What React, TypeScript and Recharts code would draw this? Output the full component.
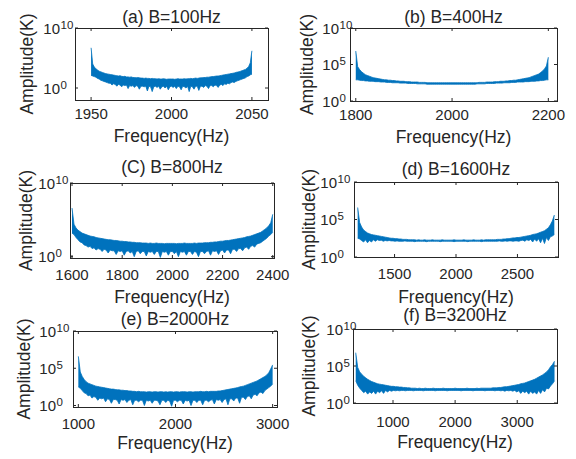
import React from 'react';
import { AreaChart, Area, XAxis, YAxis } from 'recharts';

const FONT = '"Liberation Sans", Arial, Helvetica, sans-serif';
const INK = '#262626';
const BLUE = '#0072BD';

// Amplitude spectra as log10(K): upper and lower envelope of the dense trace,
// sampled on 101 evenly spaced frequencies from the lower to the upper band edge.
const upperA = [
  6.7, 4.0, 3.5, 3.2, 3.0, 2.8, 2.7, 2.6, 2.5, 2.4,
  2.35, 2.3, 2.25, 2.2, 2.15, 2.1, 2.05, 2.0, 2.05, 1.95,
  1.9, 1.95, 1.85, 1.85, 1.8, 1.85, 1.75, 1.75, 1.7, 1.75,
  1.7, 1.65, 1.65, 1.6, 1.65, 1.6, 1.6, 1.55, 1.6, 1.55,
  1.55, 1.5, 1.55, 1.5, 1.5, 1.55, 1.5, 1.45, 1.5, 1.5,
  1.5, 1.5, 1.45, 1.5, 1.55, 1.5, 1.5, 1.5, 1.55, 1.5,
  1.55, 1.55, 1.6, 1.55, 1.6, 1.65, 1.6, 1.65, 1.7, 1.7,
  1.75, 1.75, 1.8, 1.8, 1.85, 1.9, 1.9, 1.95, 2.0, 2.0,
  2.05, 2.1, 2.15, 2.2, 2.25, 2.3, 2.35, 2.4, 2.45, 2.5,
  2.6, 2.65, 2.7, 2.8, 2.9, 3.0, 3.1, 3.3, 3.6, 4.2,
  6.2,
];
const lowerA = [
  2.1, 2.0, 1.9, 1.8, 1.6, 1.5, 1.3, 1.2, 1.1, 1.0,
  0.9, 0.8, 0.8, 0.5, 0.7, 0.6, 0.3, 0.6, 0.5, 0.2,
  0.5, 0.4, 0.5, -0.1, 0.4, 0.3, 0.4, 0.1, 0.4, 0.3,
  -0.2, 0.3, 0.3, 0.2, 0.3, -0.5, 0.3, 0.2, -0.6, 0.2,
  0.3, 0.1, 0.3, -0.2, 0.2, 0.3, 0.0, 0.3, -0.3, 0.2,
  0.3, 0.1, 0.3, -0.1, 0.3, 0.2, -0.3, 0.3, 0.2, 0.0,
  0.3, -0.6, 0.3, 0.2, -0.2, 0.3, 0.3, -0.4, 0.3, 0.3,
  0.1, 0.4, 0.3, -0.1, 0.4, 0.4, 0.2, 0.5, 0.4, 0.1,
  0.5, 0.6, 0.4, 0.7, 0.6, 0.8, 0.7, 0.9, 1.0, 0.9,
  1.1, 1.2, 1.3, 1.4, 1.5, 1.6, 1.7, 1.9, 2.0, 2.2,
  2.3,
];

const upperB = [
  6.85, 4.7, 4.3, 4.0, 3.8, 3.6, 3.5, 3.4, 3.3, 3.2,
  3.15, 3.1, 3.05, 3.0, 2.95, 2.9, 2.9, 2.85, 2.85, 2.8,
  2.8, 2.75, 2.75, 2.7, 2.7, 2.7, 2.65, 2.65, 2.65, 2.6,
  2.6, 2.6, 2.6, 2.55, 2.55, 2.55, 2.55, 2.5, 2.5, 2.5,
  2.5, 2.5, 2.5, 2.5, 2.5, 2.5, 2.5, 2.5, 2.5, 2.5,
  2.5, 2.5, 2.5, 2.5, 2.5, 2.5, 2.5, 2.5, 2.5, 2.5,
  2.5, 2.5, 2.5, 2.5, 2.55, 2.55, 2.55, 2.55, 2.6, 2.6,
  2.6, 2.6, 2.65, 2.65, 2.65, 2.7, 2.7, 2.7, 2.75, 2.75,
  2.8, 2.8, 2.85, 2.85, 2.9, 2.95, 3.0, 3.05, 3.1, 3.15,
  3.2, 3.3, 3.4, 3.5, 3.6, 3.7, 3.9, 4.1, 4.4, 4.8,
  6.0,
];
const lowerB = [
  2.9, 2.9, 2.85, 2.8, 2.8, 2.75, 2.75, 2.7, 2.7, 2.7,
  2.65, 2.65, 2.65, 2.6, 2.6, 2.6, 2.55, 2.55, 2.55, 2.5,
  2.5, 2.5, 2.5, 2.45, 2.45, 2.45, 2.45, 2.4, 2.4, 2.4,
  2.4, 2.4, 2.35, 2.35, 2.35, 2.35, 2.35, 2.3, 2.3, 2.3,
  2.3, 2.3, 2.3, 2.3, 2.3, 2.3, 2.3, 2.3, 2.3, 2.3,
  2.3, 2.3, 2.3, 2.3, 2.3, 2.3, 2.3, 2.3, 2.3, 2.3,
  2.3, 2.3, 2.3, 2.35, 2.35, 2.35, 2.35, 2.35, 2.4, 2.4,
  2.4, 2.4, 2.4, 2.45, 2.45, 2.45, 2.45, 2.5, 2.5, 2.5,
  2.5, 2.55, 2.55, 2.55, 2.6, 2.6, 2.6, 2.6, 2.65, 2.65,
  2.65, 2.7, 2.7, 2.7, 2.75, 2.75, 2.8, 2.8, 2.85, 2.9,
  2.9,
];

const upperC = [
  6.6, 4.4, 3.9, 3.6, 3.4, 3.2, 3.1, 3.0, 2.9, 2.8,
  2.75, 2.7, 2.6, 2.55, 2.5, 2.45, 2.4, 2.35, 2.3, 2.3,
  2.25, 2.2, 2.2, 2.15, 2.1, 2.1, 2.05, 2.05, 2.0, 2.0,
  1.95, 1.95, 1.9, 1.9, 1.9, 1.85, 1.85, 1.85, 1.8, 1.85,
  1.8, 1.8, 1.85, 1.8, 1.8, 1.8, 1.75, 1.8, 1.8, 1.8,
  1.8, 1.8, 1.75, 1.8, 1.8, 1.8, 1.85, 1.8, 1.8, 1.8,
  1.8, 1.85, 1.8, 1.85, 1.85, 1.85, 1.9, 1.9, 1.9, 1.95,
  1.95, 2.0, 2.0, 2.05, 2.1, 2.1, 2.15, 2.2, 2.2, 2.25,
  2.3, 2.35, 2.4, 2.45, 2.5, 2.55, 2.6, 2.7, 2.75, 2.8,
  2.9, 3.0, 3.1, 3.2, 3.3, 3.5, 3.7, 3.9, 4.2, 4.6,
  5.75,
];
const lowerC = [
  3.2, 3.0, 2.6, 2.3, 2.0, 1.9, 1.6, 1.5, 1.3, 1.4,
  1.1, 1.2, 0.9, 1.1, 1.0, 0.7, 1.0, 0.9, 0.5, 0.9,
  0.8, 0.8, 0.3, 0.8, 0.7, 0.8, 0.2, 0.7, 0.8, 0.5,
  0.7, 0.0, 0.7, 0.8, 0.4, 0.7, 0.7, 0.1, 0.7, 0.6,
  0.7, 0.3, 0.7, 0.7, -0.1, 0.7, 0.6, 0.7, 0.2, 0.7,
  0.7, 0.4, 0.7, 0.0, 0.7, 0.6, 0.7, 0.2, 0.7, 0.7,
  0.3, 0.7, 0.6, 0.0, 0.7, 0.7, 0.4, 0.7, 0.8, 0.2,
  0.8, 0.7, 0.8, 0.3, 0.8, 0.9, 0.5, 0.9, 0.9, 0.4,
  1.0, 1.0, 0.7, 1.1, 1.1, 0.8, 1.2, 1.3, 1.0, 1.4,
  1.5, 1.3, 1.7, 1.8, 1.9, 2.1, 2.3, 2.5, 2.8, 3.0,
  3.3,
];

const upperD = [
  6.6, 4.6, 4.0, 3.6, 3.4, 3.2, 3.1, 3.0, 2.95, 2.9,
  2.85, 2.8, 2.75, 2.7, 2.65, 2.6, 2.55, 2.5, 2.5, 2.45,
  2.45, 2.4, 2.4, 2.35, 2.35, 2.35, 2.3, 2.3, 2.3, 2.3,
  2.25, 2.3, 2.25, 2.25, 2.3, 2.25, 2.25, 2.25, 2.3, 2.25,
  2.25, 2.25, 2.25, 2.3, 2.25, 2.25, 2.25, 2.25, 2.25, 2.3,
  2.25, 2.25, 2.25, 2.25, 2.3, 2.25, 2.25, 2.25, 2.25, 2.3,
  2.25, 2.25, 2.25, 2.3, 2.25, 2.3, 2.3, 2.3, 2.3, 2.3,
  2.3, 2.35, 2.35, 2.35, 2.4, 2.4, 2.45, 2.45, 2.5, 2.55,
  2.55, 2.6, 2.6, 2.65, 2.7, 2.75, 2.8, 2.85, 2.9, 3.0,
  3.05, 3.1, 3.2, 3.3, 3.4, 3.5, 3.7, 3.9, 4.3, 4.8,
  5.6,
];
const lowerD = [
  2.5, 2.4, 2.2, 2.0, 2.3, 1.9, 2.2, 2.0, 2.3, 2.1,
  2.3, 2.2, 2.25, 2.1, 2.2, 2.15, 2.2, 2.15, 2.15, 2.1,
  2.15, 2.1, 2.1, 2.1, 2.15, 2.1, 2.1, 2.1, 2.1, 2.05,
  2.1, 2.1, 2.1, 2.1, 2.1, 2.05, 2.1, 2.1, 2.1, 2.1,
  2.1, 2.1, 2.05, 2.1, 2.1, 2.1, 2.1, 2.1, 2.1, 2.05,
  2.1, 2.1, 2.1, 2.1, 2.1, 2.1, 2.05, 2.1, 2.1, 2.1,
  2.1, 2.1, 2.1, 2.05, 2.1, 2.1, 2.1, 2.1, 2.1, 2.1,
  2.1, 2.1, 2.15, 2.1, 2.1, 2.15, 2.1, 2.15, 2.15, 2.1,
  2.15, 2.15, 2.1, 2.2, 2.25, 2.1, 2.3, 2.2, 2.35, 2.0,
  2.4, 2.1, 2.45, 1.9, 2.5, 1.8, 2.6, 2.2, 2.7, 2.8,
  3.0,
];

const upperE = [
  6.6, 4.5, 3.9, 3.5, 3.2, 3.0, 2.9, 2.8, 2.7, 2.6,
  2.55, 2.5, 2.45, 2.4, 2.35, 2.3, 2.25, 2.2, 2.2, 2.15,
  2.1, 2.1, 2.05, 2.05, 2.0, 2.0, 1.95, 1.95, 1.9, 1.9,
  1.85, 1.9, 1.85, 1.85, 1.85, 1.8, 1.85, 1.85, 1.8, 1.85,
  1.85, 1.8, 1.85, 1.85, 1.8, 1.85, 1.8, 1.85, 1.85, 1.8,
  1.85, 1.85, 1.8, 1.85, 1.85, 1.85, 1.8, 1.85, 1.85, 1.8,
  1.85, 1.85, 1.85, 1.9, 1.85, 1.85, 1.9, 1.85, 1.9, 1.9,
  1.9, 1.9, 1.95, 1.95, 2.0, 2.05, 2.1, 2.15, 2.2, 2.25,
  2.3, 2.35, 2.4, 2.5, 2.55, 2.6, 2.7, 2.8, 2.9, 3.0,
  3.1, 3.2, 3.3, 3.45, 3.6, 3.75, 3.9, 4.1, 4.4, 4.9,
  5.45,
];
const lowerE = [
  2.5, 2.3, 2.0, 1.7, 1.6, 1.3, 1.4, 1.0, 1.2, 1.1,
  0.7, 1.0, 0.9, 1.0, 0.5, 0.9, 0.8, 0.3, 0.8, 0.8,
  0.7, 0.2, 0.8, 0.7, 0.8, 0.4, 0.7, 0.8, 0.1, 0.7,
  0.7, 0.5, 0.7, 0.7, 0.0, 0.7, 0.6, 0.7, 0.3, 0.7,
  0.7, 0.6, 0.1, 0.7, 0.7, 0.4, 0.7, 0.6, -0.1, 0.7,
  0.7, 0.5, 0.7, 0.7, 0.2, 0.7, 0.6, 0.7, 0.0, 0.7,
  0.7, 0.4, 0.7, 0.7, 0.1, 0.7, 0.7, 0.5, 0.7, 0.8,
  0.2, 0.8, 0.7, 0.8, 0.4, 0.8, 0.9, 0.1, 0.9, 0.9,
  0.6, 1.0, 1.0, 0.3, 1.1, 1.1, 0.8, 1.2, 1.3, 0.9,
  1.4, 1.5, 1.3, 1.7, 1.8, 1.6, 2.0, 2.2, 2.4, 2.6,
  2.9,
];

const upperF = [
  6.8, 4.8, 4.2, 3.9, 3.6, 3.4, 3.2, 3.05, 2.9, 2.8,
  2.7, 2.6, 2.55, 2.5, 2.45, 2.4, 2.35, 2.3, 2.25, 2.25,
  2.2, 2.2, 2.15, 2.15, 2.1, 2.1, 2.05, 2.05, 2.0, 2.0,
  2.0, 1.95, 2.0, 1.95, 1.95, 2.0, 1.95, 1.95, 1.95, 2.0,
  1.95, 1.95, 1.95, 1.95, 2.0, 1.95, 1.95, 1.95, 1.95, 1.95,
  2.0, 1.95, 1.95, 1.95, 1.95, 1.95, 2.0, 1.95, 1.95, 1.95,
  1.95, 2.0, 1.95, 2.0, 2.0, 2.0, 2.0, 2.0, 2.0, 2.05,
  2.05, 2.05, 2.1, 2.1, 2.15, 2.2, 2.2, 2.25, 2.3, 2.35,
  2.4, 2.45, 2.5, 2.6, 2.65, 2.7, 2.8, 2.9, 3.0, 3.1,
  3.2, 3.35, 3.5, 3.65, 3.8, 4.0, 4.2, 4.5, 4.9, 5.2,
  5.65,
];
const lowerF = [
  3.0, 2.4, 2.0, 1.7, 1.4, 1.6, 1.2, 1.5, 1.3, 1.6,
  1.2, 1.6, 1.4, 1.65, 1.3, 1.7, 1.5, 1.7, 1.6, 1.7,
  1.65, 1.7, 1.65, 1.7, 1.7, 1.65, 1.7, 1.7, 1.7, 1.65,
  1.7, 1.7, 1.7, 1.7, 1.65, 1.7, 1.7, 1.7, 1.7, 1.7,
  1.65, 1.7, 1.7, 1.7, 1.7, 1.7, 1.65, 1.7, 1.7, 1.7,
  1.7, 1.7, 1.7, 1.65, 1.7, 1.7, 1.7, 1.7, 1.7, 1.65,
  1.7, 1.7, 1.7, 1.7, 1.7, 1.65, 1.7, 1.7, 1.7, 1.7,
  1.65, 1.7, 1.7, 1.65, 1.7, 1.6, 1.7, 1.65, 1.7, 1.6,
  1.7, 1.5, 1.65, 1.3, 1.6, 1.4, 1.6, 1.2, 1.6, 1.3,
  1.5, 1.2, 1.7, 1.3, 1.8, 1.5, 2.0, 1.9, 2.3, 2.6,
  3.0,
];

// Band edges (Hz) of each spectrum
const bandA = [1950, 2050];
const bandB = [1800, 2200];
const bandC = [1600, 2400];
const bandD = [1200, 2800];
const bandE = [1000, 3000];
const bandF = [400, 3600];

const titles = ['(a) B=100Hz', '(b) B=400Hz', '(C) B=800Hz', '(d) B=1600Hz', '(e) B=2000Hz', '(f) B=3200Hz'];

const xTicksA = [1950, 2000, 2050];
const xTicksB = [1800, 2000, 2200];
const xTicksC = [1600, 1800, 2000, 2200, 2400];
const xTicksD = [1500, 2000, 2500];
const xTicksE = [1000, 2000, 3000];
const xTicksF = [1000, 2000, 3000];

const yTicksSparse = [1, 1e10];
const yTicksFull = [1, 1e5, 1e10];

const X_LABEL = 'Frequency(Hz)';
const Y_LABEL = 'Amplitude(K)';

type Box = { left: number; top: number; width: number; height: number };

type PanelSpec = {
  title: string;
  upper: number[];
  lower: number[];
  band: number[];
  xDomain: [number, number];
  xTicks: number[];
  yDomain: [number, number];
  yTicks: number[];
  box: Box;
  yGap: number;
  yLabelX: number;
  titleY: number;
  xTickY: number;
  xLabelY: number;
};

const panels: PanelSpec[] = [
  {
    title: titles[0], upper: upperA, lower: lowerA, band: bandA, xDomain: [1940, 2060], xTicks: xTicksA,
    yDomain: [0.01, 1e10], yTicks: yTicksSparse,
    box: { left: 75, top: 28, width: 193, height: 72 },
    yGap: 15, yLabelX: 33, titleY: 23, xTickY: 119, xLabelY: 142,
  },
  {
    title: titles[1], upper: upperB, lower: lowerB, band: bandB, xDomain: [1788, 2218], xTicks: xTicksB,
    yDomain: [1, 1e10], yTicks: yTicksFull,
    box: { left: 350, top: 28, width: 207, height: 73 },
    yGap: 11, yLabelX: 313, titleY: 23, xTickY: 120, xLabelY: 142.5,
  },
  {
    title: titles[2], upper: upperC, lower: lowerC, band: bandC, xDomain: [1592, 2405], xTicks: xTicksC,
    yDomain: [0.66, 1e10], yTicks: yTicksSparse,
    box: { left: 70, top: 183, width: 204, height: 75 },
    yGap: 15, yLabelX: 31.5, titleY: 173, xTickY: 280, xLabelY: 302.5,
  },
  {
    title: titles[3], upper: upperD, lower: lowerD, band: bandD, xDomain: [1170, 2830], xTicks: xTicksD,
    yDomain: [1, 1e10], yTicks: yTicksFull,
    box: { left: 354, top: 182, width: 204, height: 75 },
    yGap: 17, yLabelX: 314.5, titleY: 175, xTickY: 278.5, xLabelY: 302.5,
  },
  {
    title: titles[4], upper: upperE, lower: lowerE, band: bandE, xDomain: [945, 3045], xTicks: xTicksE,
    yDomain: [0.63, 1e10], yTicks: yTicksFull,
    box: { left: 73, top: 331, width: 204, height: 76 },
    yGap: 17, yLabelX: 30, titleY: 325, xTickY: 428.5, xLabelY: 449,
  },
  {
    title: titles[5], upper: upperF, lower: lowerF, band: bandF, xDomain: [356, 3640], xTicks: xTicksF,
    yDomain: [1, 1e10], yTicks: yTicksFull,
    box: { left: 353, top: 329, width: 204, height: 74 },
    yGap: 10, yLabelX: 314.5, titleY: 321, xTickY: 426.5, xLabelY: 448,
  },
];

const ML = 50;
const MT = 10;
const MR = 30;
const MB = 30;

function toRows(p: PanelSpec) {
  const [lo, hi] = p.band;
  const step = (hi - lo) / (p.upper.length - 1);
  return p.upper.map((u, i) => ({
    freq: lo + i * step,
    amp: [Math.pow(10, p.lower[i]), Math.pow(10, u)],
  }));
}

function Panel({ p }: { p: PanelSpec }) {
  const { left, top, width: bw, height: bh } = p.box;
  const rows = toRows(p);

  const XTick = (props: any) => {
    const { x, payload } = props;
    return (
      <g>
        <line x1={x} x2={x} y1={MT + bh} y2={MT + bh - 3} stroke={INK} strokeWidth={1} />
        <line x1={x} x2={x} y1={MT} y2={MT + 3} stroke={INK} strokeWidth={1} />
        <text x={x} y={p.xTickY - (top - MT)} textAnchor="middle" fontSize={15} fontFamily={FONT} fill={INK}>
          {payload.value}
        </text>
      </g>
    );
  };

  const YTick = (props: any) => {
    const { y, payload } = props;
    const exp = Math.round(Math.log10(payload.value));
    const baseRight = ML - p.yGap;
    return (
      <g>
        <line x1={ML} x2={ML + 3} y1={y} y2={y} stroke={INK} strokeWidth={1} />
        <line x1={ML + bw} x2={ML + bw - 3} y1={y} y2={y} stroke={INK} strokeWidth={1} />
        <text x={baseRight} y={y + 5.5} textAnchor="end" fontSize={15} fontFamily={FONT} fill={INK}>10</text>
        <text x={baseRight + 0.5} y={y + 0.5} textAnchor="start" fontSize={11.5} fontFamily={FONT} fill={INK}>{exp}</text>
      </g>
    );
  };

  return (
    <div style={{ position: 'absolute', left: left - ML, top: top - MT }}>
      <AreaChart
        width={ML + bw + MR}
        height={MT + bh + MB}
        data={rows}
        margin={{ top: MT, right: MR, bottom: 0, left: 0 }}
      >
        <XAxis
          dataKey="freq"
          type="number"
          domain={p.xDomain}
          ticks={p.xTicks}
          interval={0}
          allowDataOverflow
          axisLine={false}
          tickLine={false}
          tick={XTick}
          height={MB}
        />
        <YAxis
          type="number"
          scale="log"
          domain={p.yDomain}
          ticks={p.yTicks}
          interval={0}
          allowDataOverflow
          axisLine={false}
          tickLine={false}
          tick={YTick}
          width={ML}
        />
        <Area
          dataKey="amp"
          type="linear"
          stroke={BLUE}
          strokeWidth={0.8}
          fill={BLUE}
          fillOpacity={1}
          dot={false}
          activeDot={false}
          isAnimationActive={false}
        />
      </AreaChart>
    </div>
  );
}

export default function App() {
  return (
    <div style={{ position: 'absolute', left: 0, top: 0, width: 576, height: 459, background: '#fff', overflow: 'hidden' }}>
      {panels.map((p) => (
        <Panel key={p.title} p={p} />
      ))}
      <svg width={576} height={459} style={{ position: 'absolute', left: 0, top: 0, pointerEvents: 'none' }}>
        {panels.map((p) => {
          const { left, top, width, height } = p.box;
          const cx = left + width / 2;
          const cy = top + height / 2;
          return (
            <g key={p.title} fontFamily={FONT} fill={INK}>
              <rect x={left + 0.5} y={top + 0.5} width={width} height={height} fill="none" stroke={INK} strokeWidth={1} />
              <text x={cx} y={p.titleY} textAnchor="middle" fontSize={17.5}>{p.title}</text>
              <text x={cx} y={p.xLabelY} textAnchor="middle" fontSize={17.5}>{X_LABEL}</text>
              <text transform={`translate(${p.yLabelX},${cy}) rotate(-90)`} textAnchor="middle" fontSize={17.5}>{Y_LABEL}</text>
            </g>
          );
        })}
      </svg>
    </div>
  );
}
